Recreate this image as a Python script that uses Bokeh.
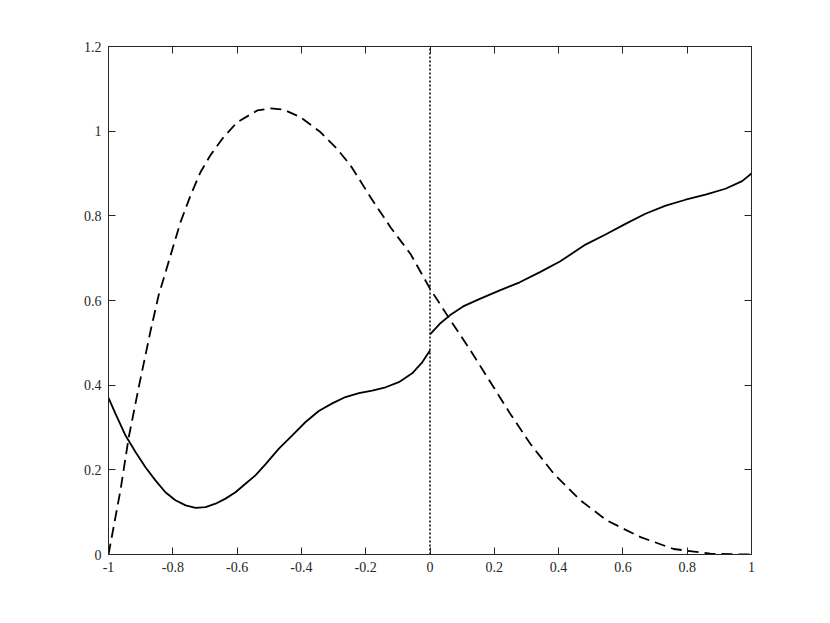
from bokeh.plotting import figure
from bokeh.models import Range1d, LinearAxis, FixedTicker
from bokeh.embed import file_html
from bokeh.resources import INLINE

# ---- data ----
dash_x = [-1.0, -0.963, -0.937, -0.906, -0.869, -0.8435, -0.776, -0.745, -0.714, -0.683,
          -0.646, -0.600, -0.537, -0.496, -0.455, -0.403, -0.341, -0.289, -0.247, -0.185,
          -0.123, -0.0606, 0.0, 0.064, 0.126, 0.178, 0.250, 0.3125, 0.385, 0.468,
          0.551, 0.655, 0.758, 0.872, 0.966, 1.0]
dash_y = [0.0, 0.151, 0.277, 0.395, 0.529, 0.614, 0.785, 0.848, 0.903, 0.943,
          0.982, 1.021, 1.049, 1.054, 1.051, 1.033, 0.998, 0.958, 0.919, 0.844,
          0.773, 0.710, 0.628, 0.553, 0.482, 0.419, 0.332, 0.261, 0.191, 0.128,
          0.080, 0.041, 0.013, 0.002, 0.0, 0.0]

left_x = [-1.0, -0.978, -0.947, -0.916, -0.885, -0.854, -0.823, -0.792, -0.760, -0.729,
          -0.698, -0.667, -0.636, -0.605, -0.574, -0.543, -0.512, -0.470, -0.429, -0.387,
          -0.346, -0.304, -0.263, -0.221, -0.180, -0.138, -0.097, -0.0554, -0.0243, 0.0]
left_y = [0.370, 0.332, 0.281, 0.242, 0.206, 0.175, 0.147, 0.128, 0.116, 0.110,
          0.112, 0.120, 0.132, 0.147, 0.167, 0.187, 0.213, 0.250, 0.281, 0.313,
          0.339, 0.357, 0.372, 0.381, 0.387, 0.395, 0.407, 0.428, 0.454, 0.482]

right_x = [0.0, 0.0305, 0.0617, 0.103, 0.155, 0.217, 0.279, 0.342, 0.404, 0.4837,
           0.546, 0.608, 0.670, 0.733, 0.795, 0.857, 0.919, 0.971, 1.0]
right_y = [0.520, 0.545, 0.565, 0.586, 0.604, 0.624, 0.643, 0.667, 0.692, 0.732,
           0.756, 0.781, 0.805, 0.824, 0.838, 0.850, 0.864, 0.882, 0.900]

vline_x = [0.0, 0.0]
vline_y = [0.0, 1.2]

x_ticks = [-1, -0.8, -0.6, -0.4, -0.2, 0, 0.2, 0.4, 0.6, 0.8, 1]
x_tick_labels = ["-1", "-0.8", "-0.6", "-0.4", "-0.2", "0", "0.2", "0.4", "0.6", "0.8", "1"]
y_ticks = [0, 0.2, 0.4, 0.6, 0.8, 1, 1.2]
y_tick_labels = ["0", "0.2", "0.4", "0.6", "0.8", "1", "1.2"]

FONT = "Liberation Serif"
AX = "#262626"

p = figure(width=822, height=615, output_backend="svg", toolbar_location=None,
           x_range=Range1d(-1, 1), y_range=Range1d(0, 1.2),
           x_axis_location=None, y_axis_location=None,
           min_border_left=108, min_border_right=71, min_border_top=46, min_border_bottom=61)
p.grid.visible = False
p.outline_line_color = AX
p.outline_line_width = 1
p.background_fill_color = "white"
p.border_fill_color = "white"

def style(ax, ticks, labels, show):
    ax.ticker = FixedTicker(ticks=ticks)
    ax.minor_tick_line_color = None
    ax.major_tick_in = 7
    ax.major_tick_out = 0
    ax.axis_line_color = AX
    ax.major_tick_line_color = AX
    ax.major_label_text_font = FONT
    ax.major_label_text_font_size = "14px"
    ax.major_label_text_color = "#262626"
    ax.major_label_standoff = 7
    if show:
        ax.major_label_overrides = {t: l for t, l in zip(ticks, labels)}
    else:
        ax.major_label_overrides = {t: "" for t in ticks}

xb = LinearAxis(); style(xb, x_ticks, x_tick_labels, True); p.add_layout(xb, "below")
xt = LinearAxis(); style(xt, x_ticks, x_tick_labels, False); p.add_layout(xt, "above")
yl = LinearAxis(); style(yl, y_ticks, y_tick_labels, True); p.add_layout(yl, "left")
yr = LinearAxis(); style(yr, y_ticks, y_tick_labels, False); p.add_layout(yr, "right")

p.line(vline_x, vline_y, line_color="black", line_width=1.5, line_dash="2 2")
p.line(dash_x, dash_y, line_color="black", line_width=1.8, line_dash="11 6", line_join="round")
p.line(left_x, left_y, line_color="black", line_width=1.8, line_join="round")
p.line(right_x, right_y, line_color="black", line_width=1.8, line_join="round")

open("out.html", "w").write(file_html(p, INLINE))
